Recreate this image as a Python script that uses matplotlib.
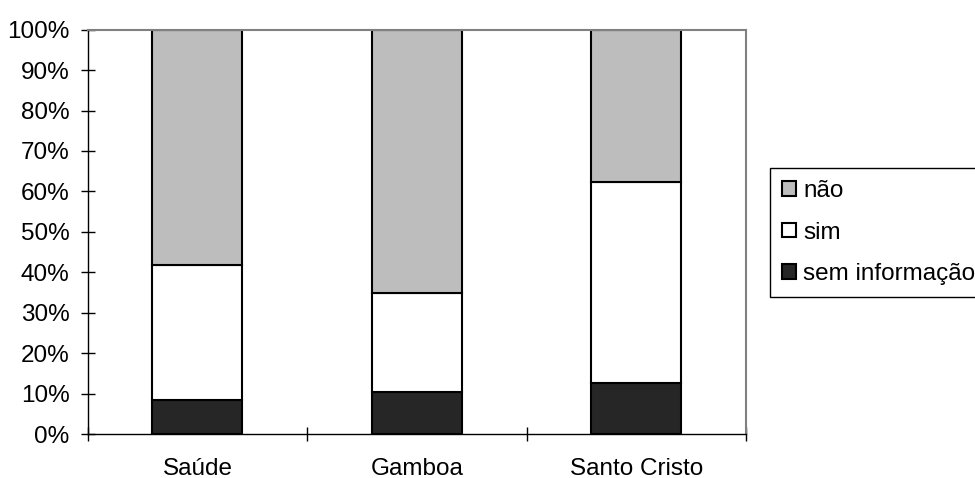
import matplotlib.pyplot as plt
import numpy as np

plt.rcParams['font.family'] = ['Liberation Sans', 'DejaVu Sans']

bairros = ['Saúde', 'Gamboa', 'Santo Cristo']
sem_info = [8.4, 10.4, 12.6]
sim = [33.4, 24.5, 49.8]
nao = [58.2, 65.1, 37.6]

fig = plt.figure(figsize=(9.75, 4.78), dpi=100)
ax = fig.add_axes([0.09, 0.092, 0.675, 0.846])

x = np.arange(len(bairros))
w = 0.41
b1 = ax.bar(x, sem_info, w, color='#262626', edgecolor='black', linewidth=1.5, label='sem informação')
b2 = ax.bar(x, sim, w, bottom=sem_info, color='white', edgecolor='black', linewidth=1.5, label='sim')
bottom2 = np.array(sem_info) + np.array(sim)
b3 = ax.bar(x, nao, w, bottom=bottom2, color='#bdbdbd', edgecolor='black', linewidth=1.5, label='não')

ax.set_xlim(-0.5, 2.5)
ax.set_ylim(0, 100)
ax.set_yticks(np.arange(0, 101, 10))
ax.set_yticklabels([f'{v}%' for v in range(0, 101, 10)])
ax.set_xticks(x)
ax.set_xticklabels(bairros)
ax.set_xticks(np.arange(-0.5, 2.6, 1), minor=True)

ax.tick_params(axis='y', direction='inout', length=10, width=1, labelsize=17.5, pad=8)
ax.tick_params(axis='x', which='major', length=0, labelsize=17.5, pad=17)
ax.tick_params(axis='x', which='minor', direction='inout', length=10, width=1)

for s in ['left', 'bottom']:
    ax.spines[s].set_color('black')
    ax.spines[s].set_linewidth(1)
for s in ['top', 'right']:
    ax.spines[s].set_color('#808080')
    ax.spines[s].set_linewidth(1.5)

leg = ax.legend(handles=[b3, b2, b1], loc='upper left', bbox_to_anchor=(0.79, 0.6485),
                bbox_transform=fig.transFigure, borderaxespad=0, fontsize=17.5,
                fancybox=False, framealpha=1, edgecolor='black',
                handlelength=0.55, handleheight=0.55, handletextpad=0.3,
                labelspacing=0.8, borderpad=0.5)
leg.get_frame().set_linewidth(1)

fig.savefig('out.png', dpi=100)
